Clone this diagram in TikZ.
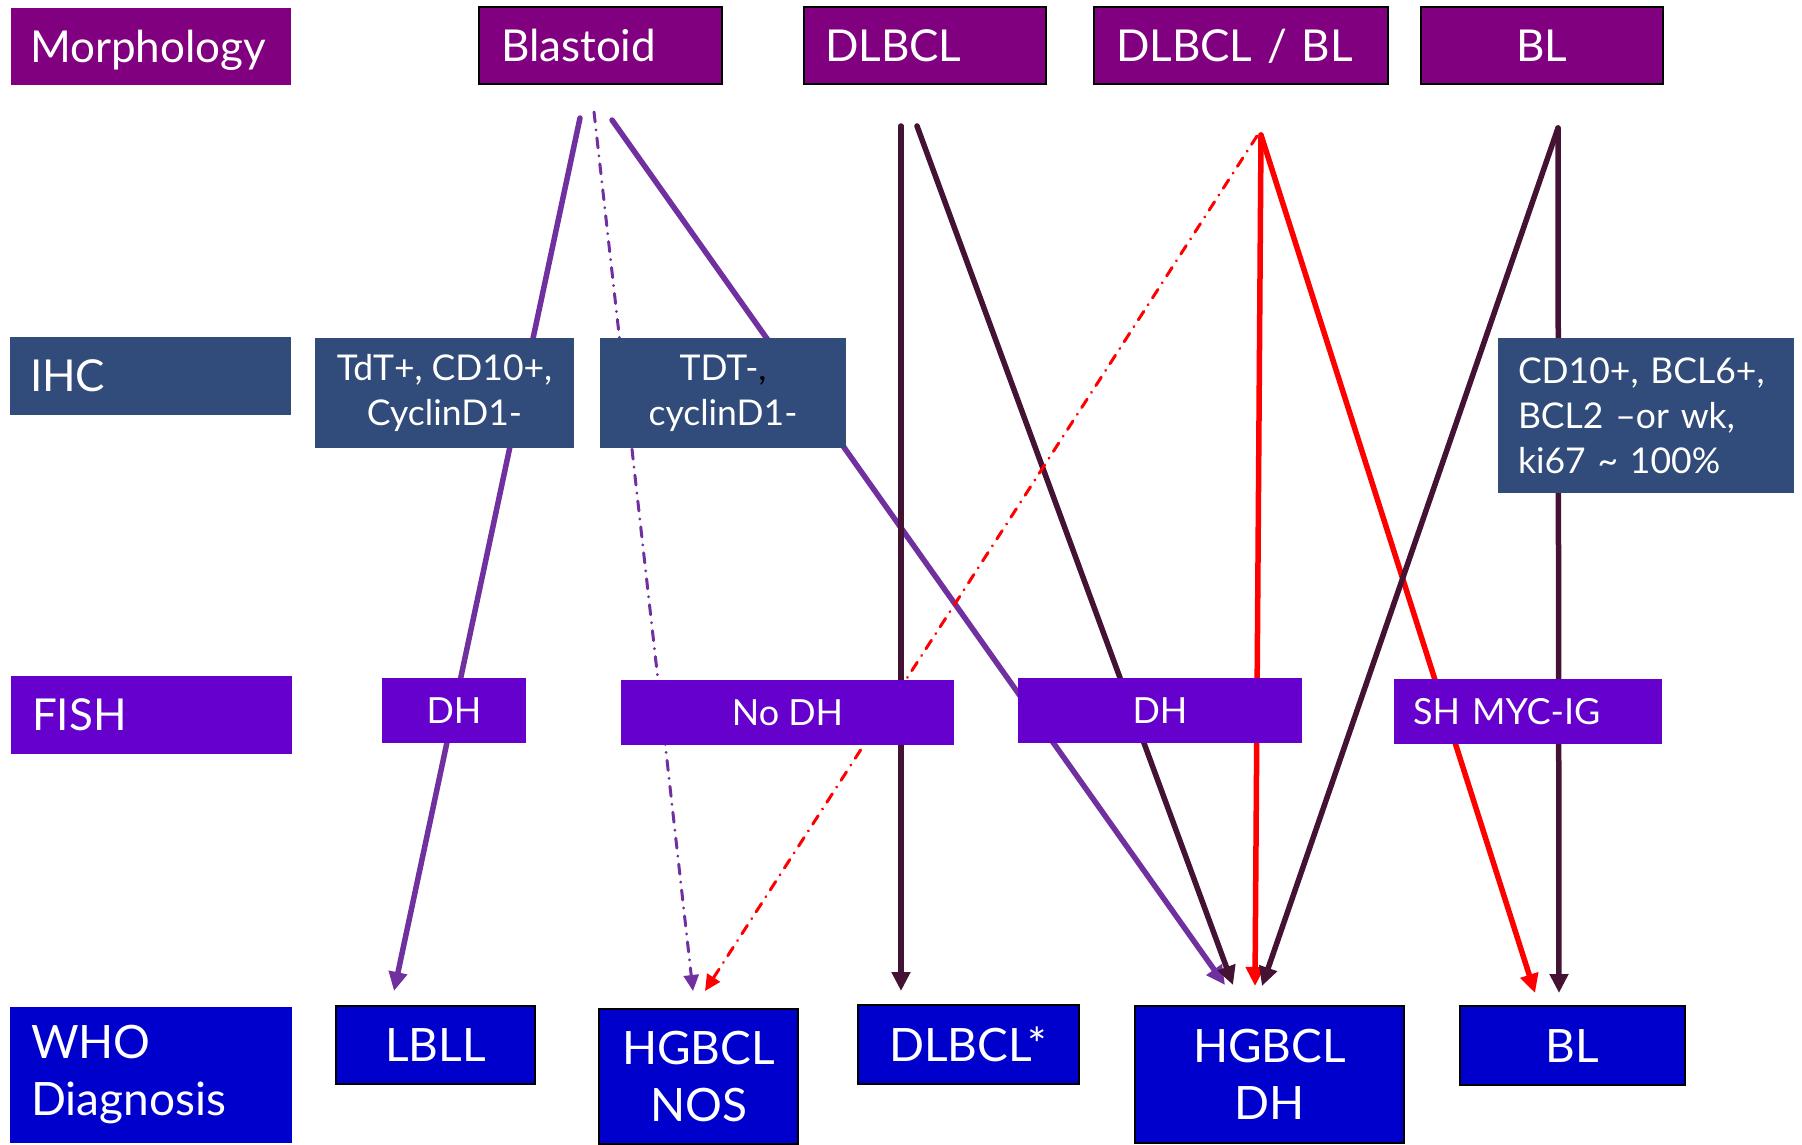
\documentclass[tikz,border=0pt]{standalone}
\usepackage{fontspec}
\setmainfont{Lato}
\usetikzlibrary{arrows.meta}
\definecolor{morphc}{HTML}{800080}
\definecolor{ihcc}{HTML}{314B7A}
\definecolor{fishc}{HTML}{6600CC}
\definecolor{whoc}{HTML}{0000CC}
\definecolor{arrpurple}{HTML}{7030A0}
\definecolor{arrdark}{HTML}{441232}
\definecolor{arrred}{HTML}{FF0000}
\tikzset{
  boxbase/.style={rectangle, inner sep=0pt, text=white},
  bigtxt/.style={font=\fontsize{44pt}{55pt}\selectfont, text height=31.5pt, text depth=0pt},
  whotxt/.style={font=\fontsize{46pt}{57pt}\selectfont},
  midtxt/.style={font=\fontsize{35.5pt}{45pt}\selectfont},
  fishtxt/.style={font=\fontsize{36pt}{44pt}\selectfont, text height=26pt, text depth=0pt},
  morphbox/.style={boxbase, bigtxt, fill=morphc},
  morphframed/.style={morphbox, draw=black, line width=2pt},
  ihcbox/.style={boxbase, midtxt, fill=ihcc},
  fishbox/.style={boxbase, fishtxt, fill=fishc},
  whobox/.style={boxbase, whotxt, fill=whoc},
  whoframed/.style={whobox, draw=black, line width=2pt},
  conn/.style={line width=5.5pt, line cap=round, -{Triangle[length=19pt,width=18pt]}},
  dashconn/.style={line width=3pt, line cap=round, dash pattern=on 10pt off 8pt on 0.1pt off 8pt, -{Triangle[length=16pt,width=15pt]}},
}
\begin{document}
\begin{tikzpicture}[x=1pt,y=-1pt]
\useasboundingbox (0,0) rectangle (1802,1145);
% connector end points
\coordinate (p1s) at (580,118);  \coordinate (p1e) at (394,991);
\coordinate (p2s) at (594,112);  \coordinate (p2e) at (693,991);
\coordinate (p3s) at (612,120);  \coordinate (p3e) at (1225,985);
\coordinate (d1s) at (901,126);  \coordinate (d1e) at (901,991);
\coordinate (d2s) at (917,126);  \coordinate (d2e) at (1233,985);
\coordinate (r0s) at (1257,136); \coordinate (r0e) at (705,991);
\coordinate (rtop) at (1261,135);
\coordinate (r1e) at (1255,986);
\coordinate (r2e) at (1535,993);
\coordinate (btop) at (1558,128);
\coordinate (b1e) at (1262,986);
\coordinate (b2e) at (1559,993);
% connectors
\draw[conn, arrpurple] (p1s) -- (p1e);
\draw[dashconn, arrpurple] (p2s) -- (p2e);
\draw[conn, arrpurple] (p3s) -- (p3e);
\draw[conn, arrdark] (d1s) -- (d1e);
\draw[conn, arrdark] (d2s) -- (d2e);
\draw[dashconn, arrred] (r0s) -- (r0e);
\draw[conn, arrred] (rtop) -- (r1e);
\draw[conn, arrred] (rtop) -- (r2e);
\draw[conn, arrdark] (btop) -- (b1e);
\draw[conn, arrdark] (btop) -- (b2e);
% row 1: morphology
\node[morphbox, minimum width=280pt, minimum height=77pt, inner xsep=19pt, text width=242pt, align=left] (morph) at (151,47) {Morphology};
\node[morphframed, minimum width=243pt, minimum height=77pt, inner xsep=22pt, text width=199pt, align=left] (blastoid) at (600.5,46) {Blastoid};
\node[morphframed, minimum width=242pt, minimum height=77pt, inner xsep=21pt, text width=200pt, align=left] (dlbcl) at (925,46) {DLBCL};
\node[morphframed, minimum width=294pt, minimum height=77pt, inner xsep=22pt, text width=250pt, align=left] (dlbclbl) at (1241,46) {DLBCL / BL};
\node[morphframed, minimum width=242pt, minimum height=77pt] (bl) at (1542,46) {BL};
% row 2: IHC
\node[ihcbox, bigtxt, minimum height=78pt, inner xsep=20pt, text width=241pt, align=left] (ihc) at (150.5,376) {IHC};
\node[ihcbox, minimum width=259pt, minimum height=110pt, align=center] (tdt) at (444.5,393) {TdT+, CD10+,\\CyclinD1-};
\node[ihcbox, minimum width=246pt, minimum height=110pt, align=center] (tdtneg) at (723,393) {TDT-{\color{black},}\\cyclinD1-};
\node[ihcbox, minimum height=155pt, inner xsep=20pt, text width=256pt, align=left] (cdten) at (1646,415.5) {CD10+, BCL6+,\\BCL2 –or wk,\\ki67 \textasciitilde{} 100\%};
% row 3: FISH
\node[fishbox, bigtxt, minimum height=78pt, inner xsep=21pt, text width=239pt, align=left] (fish) at (151.5,715) {FISH};
\node[fishbox, minimum width=144pt, minimum height=65pt] (dhone) at (454,710.5) {DH};
\node[fishbox, minimum width=333pt, minimum height=65pt] (nodh) at (787.5,712.5) {No DH};
\node[fishbox, minimum width=284pt, minimum height=65pt] (dhtwo) at (1160,710.5) {DH};
\node[fishbox, minimum height=65pt, inner xsep=19pt, text width=230pt, align=left] (shmyc) at (1528,711.5) {SH MYC-IG};
% row 4: WHO
\node[whobox, minimum height=136pt, inner xsep=21pt, text width=240pt, align=left] (who) at (151,1075) {WHO\\Diagnosis};
\node[whoframed, minimum width=199pt, minimum height=78pt, text height=33pt, text depth=0pt] (lbll) at (435.5,1045) {LBLL};
\node[whoframed, minimum width=199pt, minimum height=135pt, align=center] (nos) at (698.5,1076.5) {HGBCL\\NOS};
\node[whoframed, minimum width=221pt, minimum height=79pt, text height=33pt, text depth=0pt] (dlbclstar) at (968,1044.5) {DLBCL*};
\node[whoframed, minimum width=269pt, minimum height=137pt, align=center] (hgdh) at (1269.5,1074.5) {HGBCL\\DH};
\node[whoframed, minimum width=225pt, minimum height=79pt, text height=33pt, text depth=0pt] (bltwo) at (1572.5,1045.5) {BL};
\end{tikzpicture}
\end{document}
